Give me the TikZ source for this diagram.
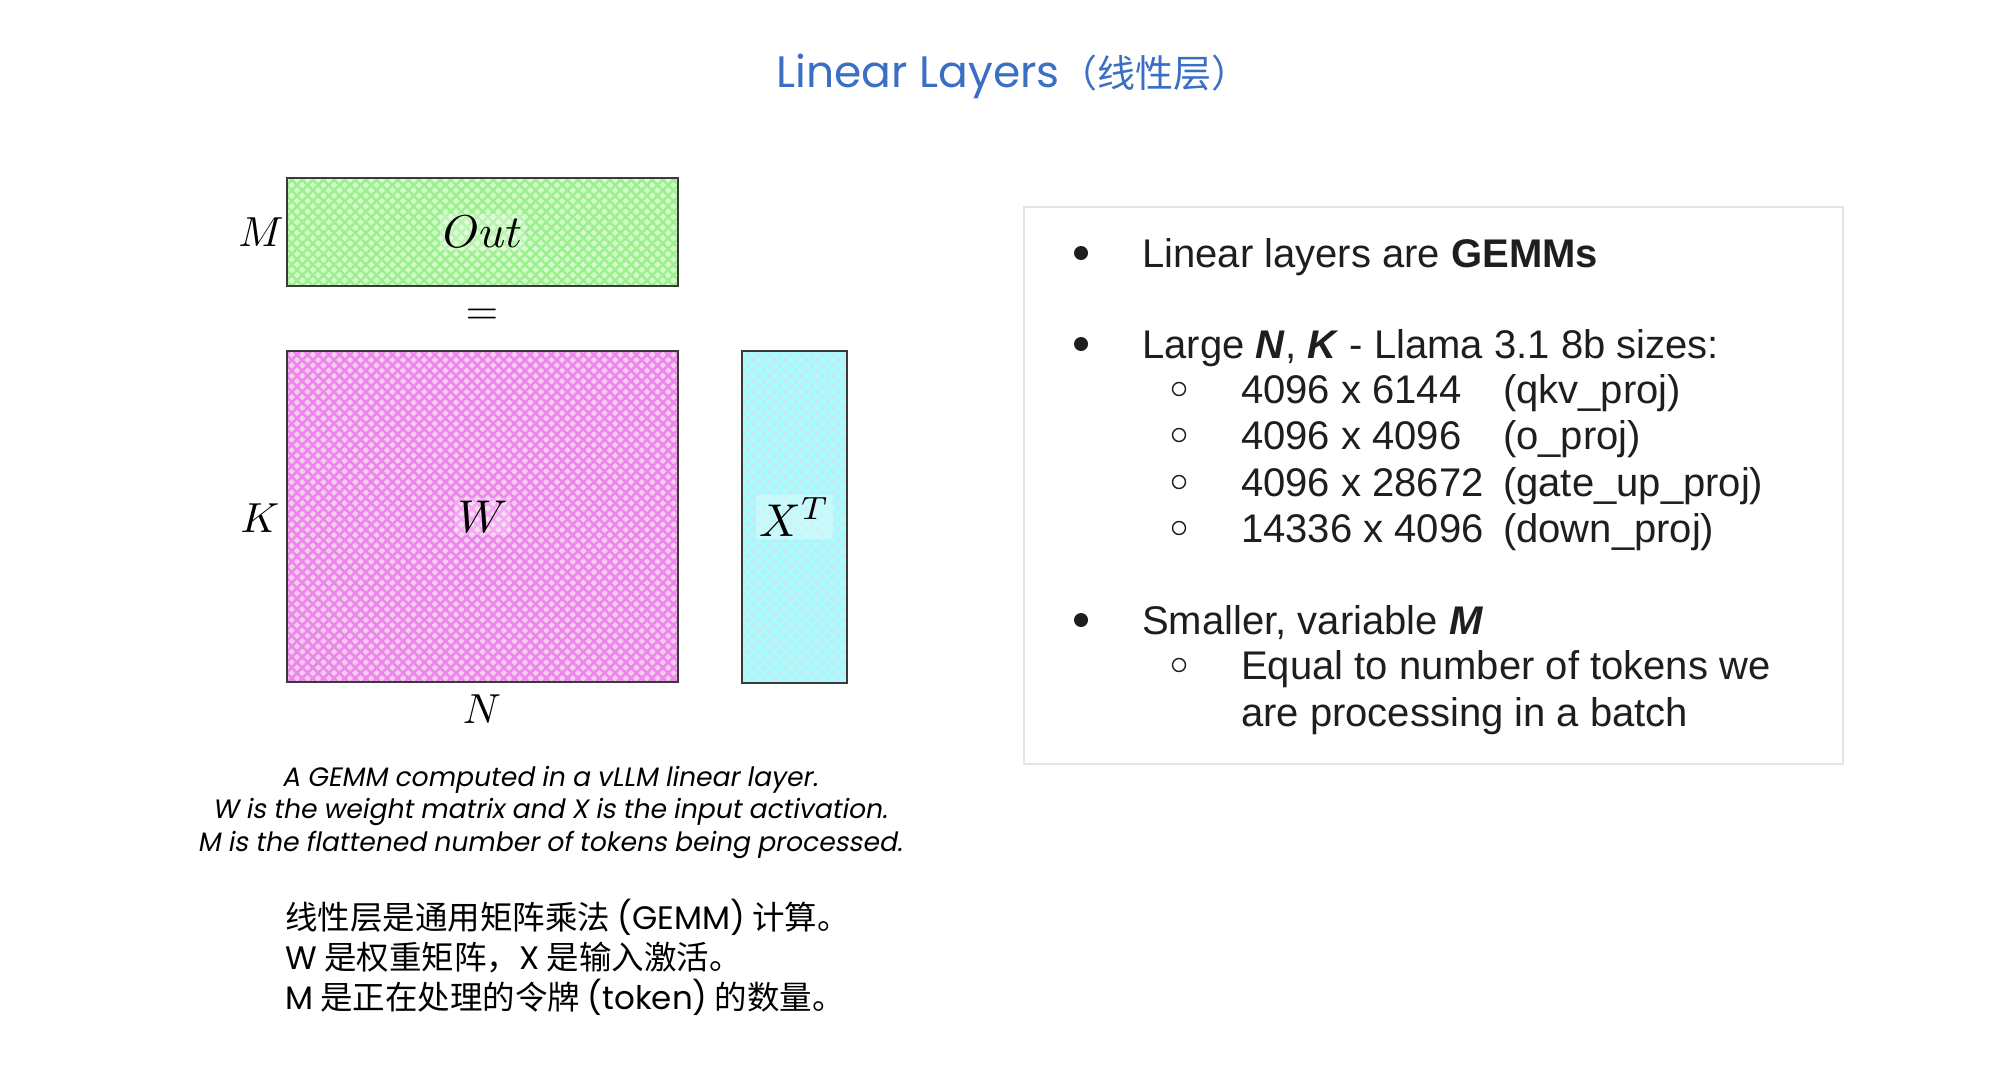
\documentclass[tikz,border=0pt]{standalone}
\usepackage{fontspec}
\usetikzlibrary{patterns.meta}
\newfontfamily\cjk{Noto Sans CJK SC}
\newfontfamily\slide{Liberation Sans}
\newfontfamily\capf{Poppins}[FakeSlant=0.18]
\newfontfamily\titlelat{Poppins}
\definecolor{titleblue}{HTML}{3A6FC4}
\definecolor{matline}{HTML}{3A3A3A}
\definecolor{outbase}{HTML}{D6FBCC}
\definecolor{outline}{HTML}{9CF08E}
\definecolor{wbase}{HTML}{F3CDEA}
\definecolor{wline}{HTML}{EE84EE}
\definecolor{xbase}{HTML}{C9E6F2}
\definecolor{xline}{HTML}{AAFCFC}
\definecolor{panelgray}{HTML}{E4E4E4}
\definecolor{txtblack}{HTML}{1E1E1E}
\newcommand{\lat}[1]{{\titlelat #1}}
\begin{document}
\begin{tikzpicture}[x=1pt,y=-1pt,
  mat/.style={draw=matline, line width=2pt, inner sep=0pt},
  mathlab/.style={inner sep=3pt, fill=white, fill opacity=0.3, text opacity=1, rounded corners=4pt},
  plainlab/.style={inner sep=0pt},
  txt/.style={font=\slide\fontsize{40}{46}\selectfont, inner sep=0pt, text=txtblack, anchor=base west},
  bul/.style={circle, fill=txtblack, minimum size=14pt, inner sep=0pt},
  subbul/.style={circle, draw=txtblack, line width=1.4pt, minimum size=13pt, inner sep=0pt},
  capstyle/.style={font=\capf\fontsize{26.6}{32}\selectfont, inner sep=0pt, text=black, anchor=base},
  zhstyle/.style={font=\cjk\fontsize{32.5}{38}\selectfont, inner sep=0pt, text=black, anchor=base west}
]
\useasboundingbox (0,0) rectangle (2014,1076);
\fill[white] (0,0) rectangle (2014,1076);

% title
\node[text=titleblue, inner sep=0pt] (title) at (1013,76)
  {\titlelat\fontsize{44}{48}\selectfont Linear Layers\cjk\fontsize{38}{42}\selectfont（线性层）};

% matrices
\node[mat, preaction={fill=outbase}, pattern={Hatch[angle=45,distance=7.5pt,line width=2.6pt]}, pattern color=outline,
  minimum width=391pt, minimum height=108pt] (out) at (482.5,232) {};
\node[mat, preaction={fill=wbase}, pattern={Hatch[angle=45,distance=7.5pt,line width=2.6pt]}, pattern color=wline,
  minimum width=391pt, minimum height=331pt] (w) at (482.5,516.5) {};
\node[mat, preaction={fill=xbase}, pattern={Hatch[angle=45,distance=7.5pt,line width=3.6pt]}, pattern color=xline,
  minimum width=105pt, minimum height=332pt] (xt) at (794.5,517) {};

\node[mathlab] (outlab) at (out.center) {\scalebox{4.6}{$Out$}};
\node[mathlab] (wlab) at (w.center) {\scalebox{4.6}{$W$}};
\node[mathlab] (xlab) at (xt.center) {\scalebox{4.6}{$X^T$}};
\node[plainlab] (mlab) at (261,232) {\scalebox{4.2}{$M$}};
\node[plainlab] (klab) at (260,518) {\scalebox{4.2}{$K$}};
\node[plainlab] (nlab) at (482,709) {\scalebox{4.2}{$N$}};
\node[plainlab] (eq) at (482,317) {\scalebox{4.2}{$=$}};

% caption
\node[capstyle] (cap1) at (550,786) {A GEMM computed in a vLLM linear layer.};
\node[capstyle] (cap2) at (550,818) {W is the weight matrix and X is the input activation.};
\node[capstyle] (cap3) at (550,851) {M is the flattened number of tokens being processed.};

% chinese notes
\node[zhstyle] (zh1) at (285,929) {线性层是通用矩阵乘法 \lat{(GEMM)} 计算。};
\node[zhstyle] (zh2) at (285,969) {\lat{W} 是权重矩阵，\lat{X} 是输入激活。};
\node[zhstyle] (zh3) at (285,1009) {\lat{M} 是正在处理的令牌 \lat{(token)} 的数量。};

% right panel
\node[draw=panelgray, line width=1.5pt, minimum width=819pt, minimum height=557pt, inner sep=0pt] (panel) at (1433.5,485.5) {};

\node[bul] (b1) at (1081,253) {};
\node[txt] (t1) at (1142,267) {Linear layers are \textbf{GEMMs}};

\node[bul] (b2) at (1081,344) {};
\node[txt] (t2) at (1142,358) {Large \textbf{\textit{N}}, \textbf{\textit{K}} - Llama 3.1 8b sizes:};
\node[subbul] (s1) at (1179,389) {};
\node[txt] (u1) at (1241,403) {\makebox[262pt][l]{4096 x 6144}(qkv\_proj)};
\node[subbul] (s2) at (1179,435) {};
\node[txt] (u2) at (1241,449) {\makebox[262pt][l]{4096 x 4096}(o\_proj)};
\node[subbul] (s3) at (1179,482) {};
\node[txt] (u3) at (1241,496) {\makebox[262pt][l]{4096 x 28672}(gate\_up\_proj)};
\node[subbul] (s4) at (1179,528) {};
\node[txt] (u4) at (1241,542) {\makebox[262pt][l]{14336 x 4096}(down\_proj)};

\node[bul] (b3) at (1081,620) {};
\node[txt] (t3) at (1142,634) {Smaller, variable \textbf{\textit{M}}};
\node[subbul] (s5) at (1179,665) {};
\node[txt] (u5) at (1241,679) {Equal to number of tokens we};
\node[txt] (u6) at (1241,726) {are processing in a batch};
\end{tikzpicture}
\end{document}
